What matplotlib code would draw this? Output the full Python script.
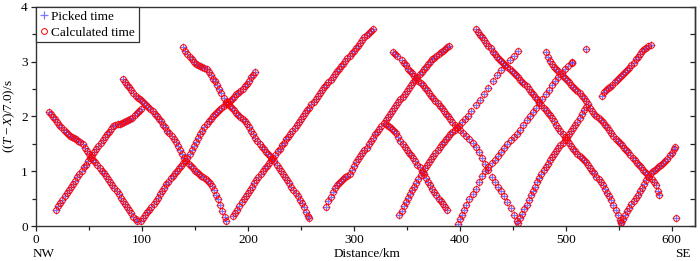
import matplotlib
matplotlib.use("Agg")
import matplotlib.pyplot as plt
import numpy as np

# ---- data: picked travel-time branches (distance km, reduced time s) ----
A_x = [12,14,16,18,20,22,24,26,28,30,32,34,36,38,40,42,44,46,48,50,52,54,56,58,60,62,64,66,68,70,72,74,76,78,80,82,84,86,88,90,92,94,95]
A_y = [2.08,2.04,1.99,1.95,1.90,1.85,1.80,1.76,1.72,1.67,1.64,1.62,1.60,1.58,1.56,1.53,1.49,1.43,1.37,1.31,1.26,1.21,1.16,1.11,1.06,1.01,0.96,0.91,0.85,0.80,0.74,0.69,0.63,0.58,0.52,0.46,0.41,0.35,0.29,0.23,0.17,0.12,0.09]

B_x = [19,21,23,25,27,29,31,33,35,37,39,41,43,45,47,49,51,53,55,57,59,61,63,65,67,69,71,73,75,77,79,81,83,85,87,89,91,93,95,97,99]
B_y = [0.30,0.36,0.42,0.48,0.54,0.60,0.65,0.71,0.77,0.83,0.89,0.95,1.01,1.07,1.12,1.18,1.24,1.29,1.35,1.41,1.46,1.52,1.57,1.62,1.67,1.72,1.77,1.82,1.85,1.86,1.87,1.88,1.89,1.91,1.93,1.95,1.98,2.02,2.06,2.10,2.13]

C_x = [82,84,86,88,90,92,94,96,98,100,102,104,106,108,110,112,114,116,118,120,122,124,126,128,130,132,134,136,138,140,142,144,146,148,150,152,154,156,158,160,162,164,166,168,170,172,174,176,178,179]
C_y = [2.68,2.63,2.58,2.53,2.48,2.43,2.38,2.34,2.31,2.28,2.24,2.21,2.17,2.13,2.09,2.05,2.01,1.96,1.91,1.85,1.80,1.74,1.69,1.64,1.58,1.53,1.46,1.39,1.32,1.25,1.19,1.14,1.10,1.05,1.01,0.98,0.95,0.92,0.89,0.86,0.83,0.78,0.73,0.65,0.57,0.49,0.39,0.28,0.16,0.09]

D_x = [139,141,143,145,147,149,151,153,155,157,159,161,163,165,167,169,171,173,175,177,179,181,183,185,187,189,191,193,195,197,199,201,203,205,207,209,211,213,215,217,219,221,223,225,227,229,231,233,235,237,239,241,243,245,247,249,251,253,255,257,258]
D_y = [3.26,3.20,3.14,3.09,3.04,2.99,2.96,2.94,2.92,2.90,2.88,2.86,2.81,2.75,2.69,2.64,2.57,2.50,2.42,2.34,2.27,2.23,2.19,2.15,2.11,2.07,2.03,1.99,1.95,1.91,1.86,1.80,1.74,1.67,1.60,1.55,1.50,1.45,1.40,1.35,1.31,1.27,1.23,1.18,1.12,1.06,1.01,0.95,0.89,0.84,0.78,0.72,0.66,0.60,0.54,0.48,0.42,0.34,0.26,0.18,0.14]

E_x = [99,101,103,105,107,109,111,113,115,117,119,121,123,125,127,129,131,133,135,137,139,141,143,145,147,149,151,153,155,157,159,161,163,165,167,169,171,173,175,177,179,181,183,185,187,189,191,193,195,197,199,201,203,205,207]
E_y = [0.10,0.15,0.20,0.25,0.30,0.35,0.41,0.46,0.52,0.58,0.64,0.70,0.76,0.81,0.87,0.92,0.97,1.01,1.06,1.10,1.15,1.19,1.25,1.32,1.39,1.46,1.53,1.60,1.67,1.74,1.80,1.86,1.92,1.96,2.00,2.04,2.08,2.12,2.16,2.19,2.23,2.26,2.29,2.32,2.36,2.40,2.43,2.47,2.50,2.55,2.60,2.65,2.71,2.76,2.81]

H_x = [186,188,190,192,194,196,198,200,202,204,206,208,210,212,214,216,218,220,222,224,226,228,230,232,234,236,238,240,242,244,246,248,250,252,254,256,258,260,262,264,266,268,270,272,274,276,278,280,282,284,286,288,290,292,294,296,298,300,302,304,306,308,310,312,314,316,318]
H_y = [0.18,0.24,0.30,0.37,0.43,0.49,0.54,0.60,0.66,0.72,0.78,0.84,0.90,0.95,1.00,1.05,1.10,1.15,1.20,1.25,1.30,1.36,1.41,1.47,1.52,1.58,1.63,1.68,1.73,1.79,1.84,1.90,1.95,2.01,2.06,2.11,2.16,2.22,2.27,2.32,2.38,2.43,2.48,2.53,2.57,2.62,2.67,2.72,2.77,2.82,2.87,2.92,2.96,3.01,3.06,3.10,3.15,3.19,3.24,3.29,3.34,3.39,3.44,3.48,3.52,3.56,3.60]

I_x = [274,276,278,280,282,284,286,288,290,292,294,296,298,300,302,304,306,308,310,312,314,316,318,320,322,324,326,328,330,332,334,336,338,340,342,344,346,348,350,352,354,356,358,360,362,364,366,368,370,372,374,376,378,380,382,384,386,388,390]
I_y = [0.35,0.45,0.53,0.62,0.69,0.74,0.79,0.83,0.86,0.89,0.91,0.95,1.02,1.10,1.17,1.23,1.28,1.33,1.38,1.43,1.49,1.55,1.61,1.67,1.72,1.77,1.83,1.88,1.94,1.99,2.05,2.10,2.15,2.20,2.26,2.31,2.36,2.41,2.46,2.51,2.57,2.62,2.67,2.72,2.77,2.81,2.86,2.91,2.96,3.00,3.04,3.07,3.10,3.14,3.17,3.20,3.23,3.26,3.29]

L_x = [330,332,334,336,338,340,342,344,346,348,350,352,354,356,358,360,362,364,366,368,370,372,374,376,378,380,382,384,386,388]
L_y = [1.86,1.83,1.80,1.77,1.74,1.69,1.63,1.56,1.50,1.44,1.39,1.34,1.29,1.24,1.18,1.12,1.07,1.01,0.95,0.88,0.81,0.74,0.68,0.62,0.56,0.50,0.45,0.40,0.34,0.29]

M_x = [343,345,347,349,351,353,355,357,359,361,363,365,367,369,371,373,375,377,379,381,383,385,387,389,391,393,395,397,399,402,405,408,411,415,419,423,427,431,435,439,443,447,451,455]
M_y = [0.20,0.28,0.36,0.44,0.51,0.58,0.65,0.72,0.79,0.86,0.93,0.99,1.05,1.11,1.17,1.23,1.28,1.34,1.39,1.44,1.49,1.54,1.59,1.63,1.67,1.71,1.75,1.79,1.83,1.89,1.95,2.01,2.09,2.20,2.30,2.40,2.52,2.64,2.75,2.84,2.93,3.02,3.11,3.19]

J_x = [337,339,341,345,347,349,351,353,355,357,359,361,363,365,367,369,371,373,375,377,379,381,383,385,387,389,391,393,395,397,400,403,406,409,412,415,418,421,424,427,430,433,436,439,442,445,448,451,454]
J_y = [3.18,3.14,3.11,3.02,2.98,2.93,2.87,2.83,2.79,2.74,2.70,2.65,2.61,2.57,2.52,2.48,2.43,2.38,2.33,2.28,2.24,2.19,2.15,2.10,2.05,2.00,1.95,1.90,1.85,1.81,1.75,1.70,1.64,1.58,1.51,1.44,1.35,1.25,1.13,1.02,0.90,0.80,0.72,0.63,0.54,0.43,0.32,0.21,0.09]

N_x = [398,400,402,404,406,409,412,415,418,421,424,427,430,433,436,439,442,445,448,451,454,457,460,463,466,469,472,475,478,481,484,487,490,493,496,499,502,506]
N_y = [0.03,0.12,0.20,0.30,0.39,0.50,0.58,0.68,0.80,0.91,1.01,1.08,1.15,1.21,1.28,1.35,1.43,1.50,1.57,1.63,1.68,1.75,1.85,1.94,2.01,2.08,2.16,2.24,2.32,2.41,2.49,2.57,2.64,2.72,2.79,2.86,2.92,2.99]

O_x = [415,417,419,421,423,425,427,429,431,433,435,437,439,441,443,445,447,449,451,453,455,457,459,461,463,465,467,469,471,473,475,477,479,481,483,485,487,489,491,493,495,497,499,501,503,505,507,509,511,513,515,517,519,521,523,525,527,529,531,533,535,537,539,541,543,545,547,549,551,552]
O_y = [3.60,3.54,3.49,3.44,3.39,3.34,3.29,3.24,3.18,3.13,3.08,3.04,3.01,2.97,2.94,2.90,2.86,2.83,2.79,2.75,2.71,2.67,2.63,2.59,2.55,2.50,2.45,2.40,2.35,2.31,2.26,2.21,2.16,2.11,2.07,2.02,1.97,1.91,1.85,1.79,1.73,1.67,1.62,1.57,1.52,1.46,1.41,1.36,1.32,1.28,1.24,1.20,1.17,1.12,1.06,1.01,0.96,0.90,0.85,0.80,0.74,0.68,0.61,0.54,0.47,0.39,0.30,0.21,0.11,0.07]

P_x = [455,457,459,461,463,465,467,469,471,473,475,477,479,481,483,485,487,489,491,493,495,497,499,501,503,505,507,509,511,513,515,517,519]
P_y = [0.05,0.14,0.22,0.31,0.39,0.48,0.56,0.64,0.72,0.80,0.88,0.95,1.02,1.08,1.14,1.20,1.26,1.31,1.36,1.42,1.47,1.52,1.57,1.62,1.68,1.74,1.79,1.84,1.90,1.97,2.04,2.11,2.18]

S_x = [481,483,485,487,489,491,493,495,497,499,501,503,505,507,509,511,513,515,517,519,521,523,525,527,529,531,533,535,537,539,541,543,545,547,549,551,553,555,557,559,561,563,565,567,569,571,573,575,577,579,581,583,585,587,588]
S_y = [3.17,3.09,3.01,2.96,2.91,2.86,2.82,2.78,2.74,2.70,2.66,2.62,2.58,2.54,2.50,2.46,2.42,2.38,2.33,2.28,2.22,2.15,2.09,2.05,2.01,1.97,1.93,1.89,1.84,1.80,1.75,1.69,1.64,1.59,1.55,1.51,1.47,1.43,1.39,1.35,1.30,1.25,1.20,1.15,1.11,1.07,1.03,0.99,0.95,0.90,0.85,0.80,0.74,0.63,0.57]

T_x = [534,536,538,540,542,544,546,548,550,552,554,556,558,560,562,564,566,568,570,572,574,576,578,580]
T_y = [2.38,2.44,2.48,2.51,2.54,2.57,2.62,2.66,2.70,2.73,2.77,2.81,2.85,2.89,2.93,2.98,3.04,3.09,3.14,3.19,3.23,3.25,3.28,3.31]

U_x = [552,554,556,558,560,562,564,566,568,570,572,574,576,578,580,582,584,586,588,590,592,594,596,598,600,602,603]
U_y = [0.05,0.12,0.20,0.27,0.33,0.40,0.46,0.52,0.57,0.63,0.70,0.77,0.84,0.90,0.96,1.00,1.03,1.06,1.09,1.12,1.15,1.18,1.23,1.29,1.34,1.41,1.45]

extra_x = [506, 519, 604]
extra_y = [2.97, 3.23, 0.15]

branches_x = [A_x, B_x, C_x, D_x, E_x, H_x, I_x, L_x, M_x, J_x, N_x, O_x, P_x, S_x, T_x, U_x, extra_x]
branches_y = [A_y, B_y, C_y, D_y, E_y, H_y, I_y, L_y, M_y, J_y, N_y, O_y, P_y, S_y, T_y, U_y, extra_y]

xticks = [0, 100, 200, 300, 400, 500, 600]
yticks = [0, 1, 2, 3, 4]

# ---- plotting ----
plt.rcParams['font.family'] = ['Liberation Serif', 'DejaVu Serif']
plt.rcParams['mathtext.fontset'] = 'custom'
plt.rcParams['mathtext.rm'] = 'Liberation Serif'
plt.rcParams['mathtext.it'] = 'Liberation Serif:italic'

FS = 9.5

fig = plt.figure(figsize=(7.0, 2.61), dpi=100)
ax = fig.add_axes([0.0514, 0.134, 0.9415, 0.840])

px = np.concatenate([np.asarray(b, float) for b in branches_x])
py = np.concatenate([np.asarray(b, float) for b in branches_y])

ax.plot(px, py, linestyle='none', marker='+', color=(0.25, 0.25, 1.0),
        alpha=0.7, markersize=6.0, markeredgewidth=0.9, label='Picked time')
ax.plot(px, py, linestyle='none', marker='o', markerfacecolor='none',
        markeredgecolor='red', markersize=4.2, markeredgewidth=0.7,
        label='Calculated time')

ax.set_xlim(0, 622)
ax.set_ylim(0, 4)
ax.set_xticks(xticks)
ax.set_xticklabels([str(t) for t in xticks])
ax.set_xticks(np.arange(50, 622, 100), minor=True)
ax.set_yticks(yticks)
ax.set_yticklabels([str(t) for t in yticks])
ax.set_yticks([0.5, 1.5, 2.5, 3.5], minor=True)

ax.tick_params(axis='both', which='major', direction='out', length=3.5, width=0.9,
               labelsize=FS, colors='#222222', labelcolor='black', pad=2.5)
ax.tick_params(axis='both', which='minor', direction='out', length=3, width=0.9,
               colors='#222222')

# right spine with inward ticks
sec = ax.secondary_yaxis('right')
sec.set_yticks([0, 0.5, 1, 1.5, 2, 2.5, 3, 3.5, 4])
sec.tick_params(direction='in', length=3.5, width=0.9, labelright=False, colors='#222222')

for sp in ax.spines.values():
    sp.set_linewidth(1.0)
    sp.set_color('#333333')
sec.spines['right'].set_linewidth(1.0)
sec.spines['right'].set_color('#333333')

ax.set_ylabel(r'$((\mathit{T}-\mathit{X})/7.0)/\mathrm{s}$', fontsize=FS, labelpad=3)

fig.text(33 / 700, 1 - 257 / 261, 'NW', fontsize=FS, ha='left', va='baseline')
fig.text(367 / 700, 1 - 257 / 261, 'Distance/km', fontsize=FS, ha='center', va='baseline')
fig.text(691 / 700, 1 - 257 / 261, 'SE', fontsize=FS, ha='right', va='baseline')

leg = ax.legend(loc='upper left', fontsize=FS, frameon=True, fancybox=False,
                edgecolor='#333333', framealpha=1, borderaxespad=0.0,
                handlelength=0.6, handletextpad=0.25, borderpad=0.3,
                labelspacing=0.25)
leg.get_frame().set_linewidth(0.9)

fig.savefig('out.png', dpi=100)
